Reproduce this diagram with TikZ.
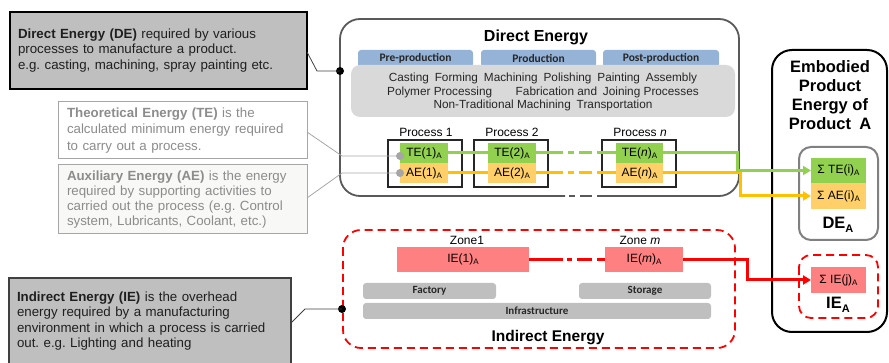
\documentclass[tikz,border=0pt]{standalone}
\usepackage{fontspec}
\setmainfont{Liberation Sans}
\newfontfamily\calib{Carlito}
\usetikzlibrary{arrows.meta}
\frenchspacing
\definecolor{tegreen}{HTML}{92D050}
\definecolor{aeorange}{HTML}{FFD06A}
\definecolor{aeline}{HTML}{FFC000}
\definecolor{iered}{HTML}{FF8080}
\definecolor{tabblue}{HTML}{95B3D7}
\definecolor{panelgray}{HTML}{D9D9D9}
\definecolor{bargray}{HTML}{BFBFBF}
\definecolor{calloutgray}{HTML}{BFBFBF}
\definecolor{lightborder}{HTML}{A6A6A6}
\definecolor{lighttext}{HTML}{8C8C8C}
\definecolor{boxborder}{HTML}{595959}
\definecolor{aefill}{HTML}{F8F8F6}
\definecolor{darktext}{HTML}{262626}
\newcommand\subA{\raisebox{-0.35ex}{\fontsize{8}{8}\selectfont A}}
\begin{document}
\begin{tikzpicture}[x=1pt,y=-1pt,
  every node/.style={inner sep=0pt, outer sep=0pt},
  calloutbox/.style={anchor=north west, align=left, inner xsep=8pt, font=\fontsize{13.3}{15.5}\selectfont},
  darkcallout/.style={calloutbox, draw=black, line width=1.2pt, fill=calloutgray, text=black!88},
  lightcallout/.style={calloutbox, draw=lightborder, line width=1pt, text=lighttext, inner xsep=9pt},
  tabbox/.style={fill=tabblue, rounded corners=3pt, anchor=north west, minimum height=17pt, font=\calib\bfseries\fontsize{11.5}{12}\selectfont, text=darktext},
  barbox/.style={fill=bargray, rounded corners=3pt, anchor=north west, minimum height=16pt, font=\calib\bfseries\fontsize{11}{12}\selectfont, text=darktext},
  procbox/.style={draw=black!85, line width=1.5pt, anchor=north west, minimum width=74pt, minimum height=47pt},
  plabel/.style={font=\fontsize{12}{14}\selectfont},
  terect/.style={fill=tegreen, anchor=north west, minimum width=48pt, minimum height=20pt, font=\fontsize{12}{14}\selectfont},
  aerect/.style={fill=aeorange, anchor=north west, minimum width=48pt, minimum height=20pt, font=\fontsize{12}{14}\selectfont},
  ierect/.style={fill=iered, anchor=north west, minimum height=25pt, font=\fontsize{12}{14}\selectfont},
  greenline/.style={draw=tegreen, line width=3pt},
  orangeline/.style={draw=aeline, line width=3pt},
  redline/.style={draw=red, line width=3pt},
  arrowend/.style={-{Triangle[length=8pt,width=9pt]}},
  gapdash/.style={dash pattern=on #1 off 5pt on 6pt off 5pt on 13pt off 5pt on 80pt off 1pt},
  leader/.style={draw=black!75, line width=0.8pt},
  lightleader/.style={draw=lightborder, line width=0.8pt},
  bigtitle/.style={font=\bfseries\fontsize{15.5}{19}\selectfont},
]
\useasboundingbox (0,0) rectangle (889,363);

% ---------- callouts ----------
\node[darkcallout, text width=281pt, minimum height=77pt] (de) at (10,12)
  {\textbf{Direct Energy (DE)} required by various\\processes to manufacture a product.\\e.g. casting, machining, spray painting etc.};
\node[lightcallout, fill=white, text width=231pt, minimum height=57pt, font=\fontsize{13.3}{16.5}\selectfont] (te) at (58,102)
  {\textbf{Theoretical Energy (TE)} is the\\calculated minimum energy required\\to carry out a process.};
\node[lightcallout, fill=aefill, text width=231pt, minimum height=69pt, font=\fontsize{13.3}{15}\selectfont] (ae) at (58,165)
  {\textbf{Auxiliary Energy (AE)} is the energy\\required by supporting activities to\\carried out the process (e.g. Control\\system, Lubricants, Coolant, etc.)};
\node[darkcallout, draw=black!75, text width=266pt, minimum height=86pt] (ie) at (9,278)
  {\textbf{Indirect Energy (IE)} is the overhead\\energy required by a manufacturing\\environment in which a process is carried\\out. e.g. Lighting and heating};

% ---------- Direct Energy frame ----------
\draw[draw=boxborder, line width=1.8pt, rounded corners=20pt]
  (565,196) -- (340,196) -- (340,19) -- (739,19) -- (739,196) -- (597,196);
\draw[draw=boxborder, line width=1.8pt] (569,196) -- (575,196) (580,196) -- (592,196);
\node[bigtitle, font=\bfseries\fontsize{16}{19}\selectfont] (detitle) at (536,37) {Direct Energy};

\node[tabbox, minimum width=115pt] (tpre) at (358,50) {Pre-production};
\node[tabbox, minimum width=115pt] (tprod) at (481,50) {Production};
\node[tabbox, minimum width=116pt] (tpost) at (603,50) {Post-production};
\fill[panelgray, rounded corners=9pt] (351,65) rectangle (735,117);
\node[font=\fontsize{11.8}{13.5}\selectfont, text=darktext, align=center] (ptext) at (543,92)
  {Casting\enspace Forming\enspace Machining\enspace Polishing\enspace Painting\enspace Assembly\\
   Polymer Processing\qquad Fabrication and\enspace Joining Processes\\
   Non-Traditional Machining\enspace Transportation};

% processes
\node[procbox] (p1) at (388,140) {};
\node[procbox] (p2) at (474,140) {};
\node[procbox] (pn) at (602,140) {};
\node[plabel] (p1l) at (426,132) {Process 1};
\node[plabel] (p2l) at (512,132) {Process 2};
\node[plabel] (pnl) at (640,132) {Process \textit{n}};
\node[terect] (te1) at (400,143) {TE(1)\subA};
\node[aerect] (ae1) at (400,163) {AE(1)\subA};
\node[terect] (te2) at (488,143) {TE(2)\subA};
\node[aerect] (ae2) at (488,163) {AE(2)\subA};
\node[terect, minimum width=47pt] (ten) at (616,143) {TE(\textit{n})\subA};
\node[aerect, minimum width=47pt] (aen) at (616,163) {AE(\textit{n})\subA};

% ---------- Indirect Energy frame ----------
\draw[red, line width=1.8pt, dash pattern=on 8pt off 5pt, rounded corners=18pt] (343,230) rectangle (735,348);
\node[font=\fontsize{12}{14}\selectfont] (z1) at (467,240) {Zone1};
\node[font=\fontsize{12}{14}\selectfont] (zm) at (640,240) {Zone \textit{m}};
\node[ierect, minimum width=132pt] (ie1) at (397,247) {IE(1)\subA};
\node[ierect, minimum width=78pt] (iem) at (605,247) {IE(\textit{m})\subA};
\node[barbox, minimum width=133pt] (fac) at (363,283) {Factory};
\node[barbox, minimum width=132pt] (sto) at (579,283) {Storage};
\node[barbox, minimum width=348pt] (inf) at (363,303) {Infrastructure};
\node[bigtitle] (ietitle) at (548,338) {Indirect Energy};

% ---------- Embodied ----------
\draw[black, line width=2pt, rounded corners=20pt] (772,50) rectangle (887,332);
\node[font=\bfseries\fontsize{16.5}{19}\selectfont, align=center] (emb) at (830,95)
  {Embodied\\Product\\Energy of\\Product\enspace A};
\draw[draw=black!50, line width=2pt, rounded corners=12pt] (799,147) rectangle (878,240);
\node[terect, minimum width=55pt, minimum height=25pt] (sumte) at (811,158) {Σ TE(i)\subA};
\node[aerect, minimum width=55pt, minimum height=26pt] (sumae) at (811,183) {Σ AE(i)\subA};
\node[font=\bfseries\fontsize{16.5}{19}\selectfont] (dea) at (838,225) {DE\raisebox{-0.4ex}{\fontsize{11}{11}\selectfont A}};
\draw[red, line width=1.8pt, dash pattern=on 8pt off 5pt, rounded corners=12pt] (799,255) rectangle (878,318);
\node[ierect, minimum width=55pt, minimum height=26pt] (sumie) at (811,267) {Σ IE(j)\subA};
\node[font=\bfseries\fontsize{16.5}{19}\selectfont] (iea) at (838,305) {IE\raisebox{-0.4ex}{\fontsize{11}{11}\selectfont A}};

% ---------- connectors ----------
\draw[greenline] (te1.east) -- (te2.west);
\draw[orangeline] (ae1.east) -- (ae2.west);
\draw[greenline, gapdash=27pt] (te2.east) -- (ten.west);
\draw[orangeline, gapdash=27pt] (ae2.east) -- (aen.west);
\draw[redline, dash pattern=on 34pt off 4pt on 5pt off 5pt on 15pt off 5pt on 80pt off 1pt] (ie1.east) -- (iem.west);
\draw[orangeline, arrowend] (aen.east) -- ++(77,0) |- (sumae.west);
\draw[greenline, arrowend] (ten.east) -- ++(74,0) |- (sumte.west);
\draw[redline, arrowend] (iem.east) -- ++(64,0) |- (sumie.west);

% ---------- leaders ----------
\node[circle, fill=black, minimum size=8pt] (dedot) at (340,71) {};
\node[circle, fill=black, minimum size=8pt] (iedot) at (342,309) {};
\node[circle, fill=lightborder, minimum size=8pt] (tedot) at (400,156) {};
\node[circle, fill=lightborder, minimum size=8pt] (aedot) at (400,173) {};
\coordinate (deL) at (307,52);
\coordinate (teL) at (307,132);
\coordinate (aeL) at (307,198);
\coordinate (ieL) at (291,323);
\draw[leader] (deL) -- (317,71) -- (dedot.center);
\draw[lightleader] (teL) -- (342,156) -- (tedot.center);
\draw[lightleader] (aeL) -- (342,173) -- (aedot.center);
\draw[leader] (ieL) -- (305,309) -- (iedot.center);
\end{tikzpicture}
\end{document}
